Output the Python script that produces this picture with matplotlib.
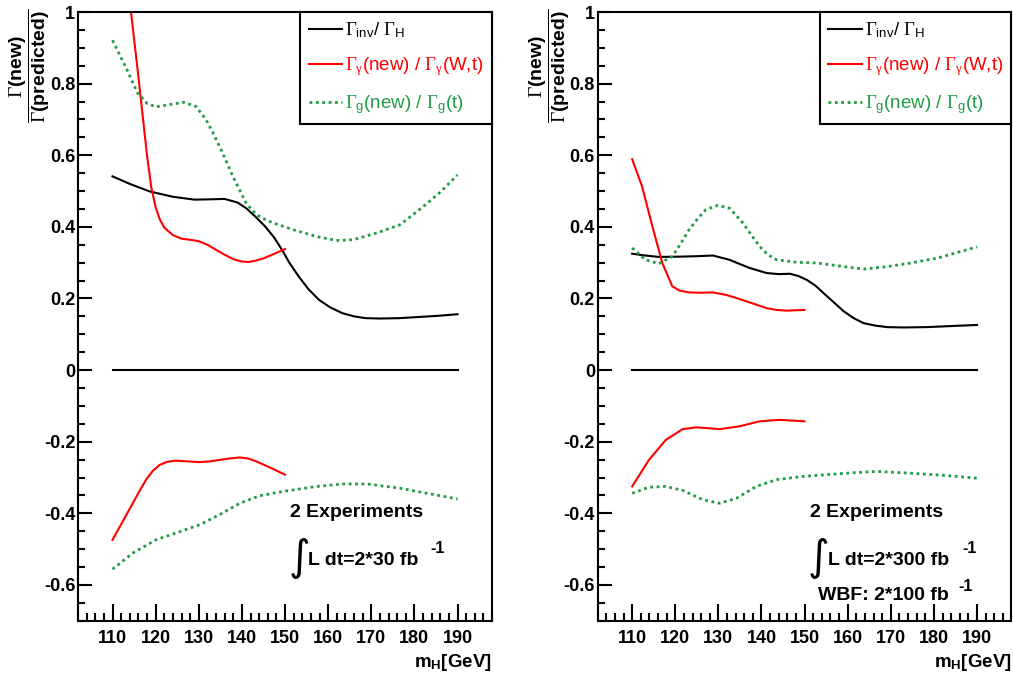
import matplotlib
matplotlib.use("Agg")
import matplotlib.pyplot as plt
from matplotlib.ticker import MultipleLocator, FormatStrFormatter

plt.rcParams['font.family'] = ['Liberation Sans', 'DejaVu Sans']
plt.rcParams['mathtext.fontset'] = 'custom'
plt.rcParams['mathtext.rm'] = 'Liberation Serif'
plt.rcParams['mathtext.sf'] = 'Liberation Sans'
plt.rcParams['mathtext.it'] = 'Liberation Serif:italic'
plt.rcParams['mathtext.bf'] = 'Liberation Sans:bold'

# ---- left panel: 2 x 30 fb^-1 ----
L_inv_x = [110, 114, 118.6, 124, 129, 133, 136, 139, 141, 143, 145.4, 147.5, 149.3, 151,
           153.2, 155.5, 157.9, 160.5, 163.3, 166, 168.7, 172, 176.5, 182, 186, 190]
L_inv_y = [0.541, 0.52, 0.499, 0.484, 0.476, 0.477, 0.478, 0.468, 0.452, 0.43, 0.401, 0.37,
           0.336, 0.30, 0.261, 0.225, 0.196, 0.175, 0.159, 0.15, 0.145, 0.144, 0.145, 0.149,
           0.152, 0.156]

L_gam_x = [110, 112, 114, 116, 118, 119, 120, 121, 122, 124, 126, 128, 130, 132, 134, 136,
           138, 140, 141.5, 143, 145, 147, 150]
L_gam_y = [1.45, 1.22, 1.03, 0.82, 0.60, 0.51, 0.455, 0.42, 0.398, 0.377, 0.367, 0.364, 0.36,
           0.35, 0.336, 0.322, 0.31, 0.303, 0.302, 0.305, 0.312, 0.322, 0.338]

L_glu_x = [110, 113, 115.8, 118, 120, 123, 126.5, 129.4, 131.7, 133.2, 134.8, 136.4, 137.9,
           139.5, 141, 142.5, 144.1, 146, 148, 151.9, 157.3, 161.9, 165.8, 171.3, 176.7, 182.1,
           186, 190]
L_glu_y = [0.921, 0.848, 0.774, 0.745, 0.735, 0.741, 0.748, 0.736, 0.699, 0.665, 0.625, 0.583,
           0.541, 0.502, 0.466, 0.445, 0.429, 0.417, 0.408, 0.392, 0.373, 0.362, 0.364, 0.383,
           0.406, 0.457, 0.497, 0.545]

L_gam_lo_x = [110, 112.5, 114.7, 116.3, 117.8, 119.3, 120.9, 122.7, 124.7, 127.5, 130.2, 132.5,
              134.8, 137, 139.5, 141.5, 143.3, 146.5, 150]
L_gam_lo_y = [-0.474, -0.42, -0.372, -0.337, -0.306, -0.282, -0.265, -0.256, -0.253, -0.255,
              -0.257, -0.255, -0.251, -0.247, -0.244, -0.247, -0.255, -0.272, -0.292]

L_glu_lo_x = [110, 114.7, 120.1, 124.7, 130.2, 134.8, 139.5, 144.1, 149.5, 157.3, 163.5, 168.9,
              176.7, 182.9, 190]
L_glu_lo_y = [-0.556, -0.511, -0.474, -0.455, -0.432, -0.404, -0.372, -0.351, -0.339, -0.325,
              -0.318, -0.318, -0.33, -0.344, -0.36]

# ---- right panel: 2 x 300 fb^-1 ----
R_inv_x = [110, 113, 116.2, 121.7, 125, 128.7, 132.6, 135, 137.3, 141.2, 144, 146.6, 148.5,
           150.5, 152.5, 154.4, 156.7, 159.1, 161.4, 163.7, 166.5, 169.2, 173, 178.5, 184, 190]
R_inv_y = [0.325, 0.32, 0.316, 0.317, 0.318, 0.32, 0.308, 0.296, 0.285, 0.271, 0.268, 0.269,
           0.263, 0.252, 0.236, 0.215, 0.19, 0.164, 0.145, 0.131, 0.124, 0.12, 0.119, 0.12,
           0.123, 0.126]

R_gam_x = [110, 112.3, 114.7, 117, 119.3, 121, 123.2, 126, 128.7, 131.8, 134, 136.5, 139,
           141.2, 143.5, 145.8, 150]
R_gam_y = [0.589, 0.513, 0.401, 0.299, 0.234, 0.222, 0.217, 0.216, 0.217, 0.21, 0.202, 0.192,
           0.182, 0.173, 0.168, 0.166, 0.168]

R_glu_x = [110, 113.1, 116.2, 119.3, 121.2, 123.2, 125.2, 127.1, 129.9, 132.6, 135.7, 137.6,
           139.6, 141.5, 143.5, 148.2, 152.9, 159.1, 163.7, 169.2, 174.6, 180.9, 190]
R_glu_y = [0.341, 0.308, 0.297, 0.317, 0.352, 0.392, 0.423, 0.448, 0.46, 0.452, 0.411, 0.378,
           0.345, 0.322, 0.308, 0.301, 0.299, 0.289, 0.282, 0.289, 0.299, 0.313, 0.344]

R_gam_lo_x = [110, 113.9, 117.8, 121.7, 124.8, 127.5, 130.3, 134.9, 139.6, 144.3, 150]
R_gam_lo_y = [-0.325, -0.251, -0.195, -0.165, -0.16, -0.162, -0.165, -0.157, -0.143, -0.139,
              -0.143]

R_glu_lo_x = [110, 113.9, 117.8, 121.7, 126.4, 130.3, 134.2, 138.8, 143.5, 149.7, 155.2, 162.2,
              166.9, 174.6, 182.4, 190]
R_glu_lo_y = [-0.344, -0.327, -0.325, -0.336, -0.362, -0.372, -0.358, -0.325, -0.306, -0.297,
              -0.292, -0.286, -0.283, -0.288, -0.294, -0.302]

zero_x = [110, 190]
zero_y = [0, 0]

labels = [r'$\Gamma_{\mathsf{inv}}$/ $\Gamma_{\mathsf{H}}$',
          r'$\Gamma_{\mathrm{\gamma}}$(new) / $\Gamma_{\mathrm{\gamma}}$(W,t)',
          r'$\Gamma_{\mathsf{g}}$(new) / $\Gamma_{\mathsf{g}}$(t)']
lumi_text = ['L dt=2*30 fb', 'L dt=2*300 fb']

GREEN = '#1f9a45'
RED = '#ff0000'
DOT = (0, (1.0, 1.3))

fig = plt.figure(figsize=(10.13, 6.75), dpi=100)
ax_l = fig.add_axes([0.077, 0.0804, 0.4087, 0.9018])
ax_r = fig.add_axes([0.590, 0.0804, 0.4085, 0.9018])

panels = [
    (ax_l, L_inv_x, L_inv_y, L_gam_x, L_gam_y, L_glu_x, L_glu_y,
     L_gam_lo_x, L_gam_lo_y, L_glu_lo_x, L_glu_lo_y),
    (ax_r, R_inv_x, R_inv_y, R_gam_x, R_gam_y, R_glu_x, R_glu_y,
     R_gam_lo_x, R_gam_lo_y, R_glu_lo_x, R_glu_lo_y),
]

for k, (ax, ix, iy, gx, gy, ux, uy, glx, gly, ulx, uly) in enumerate(panels):
    h1, = ax.plot(ix, iy, color='black', lw=1.5)
    h2, = ax.plot(gx, gy, color=RED, lw=1.5)
    h3, = ax.plot(ux, uy, color=GREEN, lw=2.0, linestyle=DOT)
    ax.plot(zero_x, zero_y, color='black', lw=1.5)
    ax.plot(glx, gly, color=RED, lw=1.5)
    ax.plot(ulx, uly, color=GREEN, lw=2.0, linestyle=DOT)

    ax.set_xlim(102, 198)
    ax.set_ylim(-0.7, 1.0)
    ax.xaxis.set_major_locator(MultipleLocator(10))
    ax.xaxis.set_minor_locator(MultipleLocator(2))
    ax.yaxis.set_major_locator(MultipleLocator(0.2))
    ax.yaxis.set_minor_locator(MultipleLocator(0.05))
    ax.yaxis.set_major_formatter(FormatStrFormatter('%g'))
    ax.tick_params(which='both', direction='in', width=1.5, labelsize=13)
    ax.tick_params(axis='x', which='major', length=12, pad=7)
    ax.tick_params(axis='x', which='minor', length=6)
    ax.tick_params(axis='y', which='major', length=10, pad=2)
    ax.tick_params(axis='y', which='minor', length=5)
    for lab in ax.get_xticklabels() + ax.get_yticklabels():
        lab.set_fontweight('bold')
    for sp in ax.spines.values():
        sp.set_linewidth(1.5)

    leg = ax.legend([h1, h2, h3], labels, loc='upper right', bbox_to_anchor=(1.0, 1.0),
                    borderaxespad=0, fancybox=False, framealpha=1, edgecolor='black',
                    fontsize=13.5, handlelength=1.8, handletextpad=0.15,
                    labelspacing=0.8, borderpad=0.45, labelcolor='linecolor')
    leg.get_frame().set_linewidth(1.5)

    ax.text(1.0, -0.069, r'$\mathbf{m}_\mathbf{H}$[GeV]', transform=ax.transAxes,
            ha='right', va='center', fontsize=13.5, fontweight='bold')

    ax.text(0.512, 0.177, '2 Experiments', transform=ax.transAxes, ha='left', va='center',
            fontsize=14, fontweight='bold')
    ax.text(0.508, 0.103, '\u222b', transform=ax.transAxes, ha='left', va='center',
            fontsize=30, family='DejaVu Sans')
    ax.text(0.556, 0.099, lumi_text[k], transform=ax.transAxes, ha='left', va='center',
            fontsize=14, fontweight='bold')
    ax.text(0.850 if k == 0 else 0.882, 0.118, '-1', transform=ax.transAxes, ha='left',
            va='center', fontsize=11.5, fontweight='bold')
    if k == 1:
        ax.text(0.532, 0.042, 'WBF: 2*100 fb', transform=ax.transAxes, ha='left',
                va='center', fontsize=14, fontweight='bold')
        ax.text(0.872, 0.056, '-1', transform=ax.transAxes, ha='left', va='center',
                fontsize=11.5, fontweight='bold')

ylab = r'$\dfrac{\Gamma\mathbf{(new)}}{\Gamma\mathbf{(predicted)}}$'
fig.text(30 / 1013, 1 - 66 / 675, ylab, rotation=90, ha='center', va='center', fontsize=14)
fig.text(550 / 1013, 1 - 66 / 675, ylab, rotation=90, ha='center', va='center', fontsize=14)

fig.savefig('out.png', dpi=100)
